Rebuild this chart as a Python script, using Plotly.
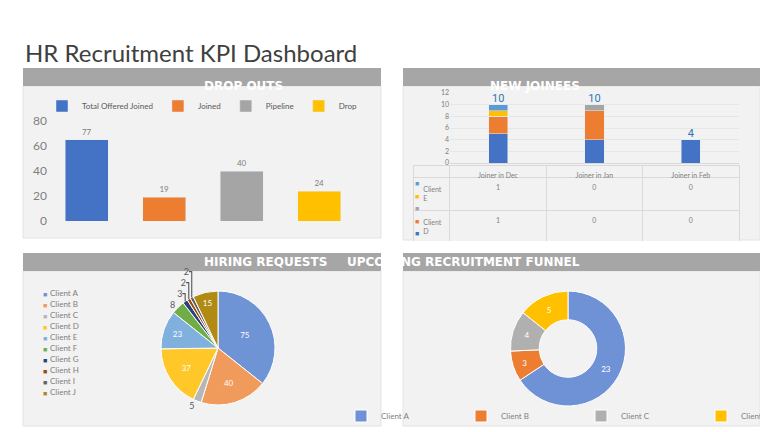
import plotly.graph_objects as go

W, H = 768, 432

# Drop outs
drop_series = ["Total Offered Joined", "Joined", "Pipeline", "Drop"]
drop_heights = [65, 19, 40, 24]
drop_labels = ["77", "19", "40", "24"]
drop_colors = ["#4472c4", "#ed7d31", "#a5a5a5", "#ffc000"]

# New joinees
months = ["Joiner in Dec", "Joiner in Jan", "Joiner in Feb"]
join_clients = ["Client A", "Client B", "Client C", "Client D", "Client E"]
join_values = {
    "Client A": [5, 4, 4],
    "Client B": [3, 5, 0],
    "Client C": [0, 1, 0],
    "Client D": [1, 0, 0],
    "Client E": [1, 0, 0],
}
join_totals = [10, 10, 4]
join_colors = ["#4472c4", "#ed7d31", "#a5a5a5", "#ffc000", "#5b9bd5"]

# Hiring requests
hire_clients = ["Client A", "Client B", "Client C", "Client D", "Client E",
                "Client F", "Client G", "Client H", "Client I", "Client J"]
hire_values = [75, 40, 5, 37, 23, 8, 3, 2, 2, 15]
hire_colors = ["#6f94d6", "#f09a5c", "#b7b7b7", "#ffc727", "#7fb0de",
               "#70ad47", "#264478", "#9e480e", "#636363", "#b08a12"]

# Upcoming funnel
fun_clients = ["Client A", "Client B", "Client C", "Client D"]
fun_values = [23, 3, 4, 5]
fun_colors = ["#6e92d5", "#ed7d31", "#b0b0b0", "#ffc000"]


def px_x(v):
    return v / W


def px_y(v):
    return 1 - v / H


fig = go.Figure()

# bars
for name, h, lab, c in zip(drop_series, drop_heights, drop_labels, drop_colors):
    fig.add_trace(go.Bar(x=[name], y=[h], name=name, marker_color=c, text=[lab],
                         textposition="outside", textfont=dict(size=8, color="#7f7f7f"),
                         width=0.55, cliponaxis=False, legend="legend"))

# stacked joinees
for cl, c in zip(join_clients, join_colors):
    fig.add_trace(go.Bar(x=months, y=join_values[cl], name=cl, marker_color=c,
                         xaxis="x2", yaxis="y2", showlegend=False, width=0.2))
fig.add_trace(go.Scatter(x=months, y=join_totals, mode="text", text=[str(t) for t in join_totals],
                         textposition="top center", textfont=dict(size=11, color="#2e75b6", family="Roboto"),
                         xaxis="x2", yaxis="y2", showlegend=False, cliponaxis=False))

# table under joinees
rows = list(reversed(join_clients))
row_cols = list(reversed(join_colors))
cols = [rows] + [[str(join_values[r][i]) for r in rows] for i in range(3)]
hdr_h, row_h = 12, 12.5
fig.add_trace(go.Table(
    domain=dict(x=[px_x(405), px_x(731)], y=[px_y(157 + hdr_h + 5 * row_h + 2), px_y(157)]),
    columnwidth=[37, 97, 97, 97],
    header=dict(values=[""] + months, height=hdr_h, fill_color="#f2f2f2",
                line_color="#d9d9d9", font=dict(size=7, color="#7f7f7f")),
    cells=dict(values=cols, height=row_h, fill_color="#f2f2f2", line_color="#d9d9d9",
               font=dict(size=7, color="#7f7f7f"), align=["right", "center", "center", "center"]),
))

# pie
fig.add_trace(go.Pie(labels=hire_clients, values=hire_values, sort=False, direction="clockwise",
                     rotation=0, marker=dict(colors=hire_colors, line=dict(color="white", width=1)),
                     textinfo="value",
                     textposition=["inside", "inside", "outside", "inside", "inside",
                                   "outside", "outside", "outside", "outside", "inside"],
                     insidetextfont=dict(size=8, color="white"),
                     outsidetextfont=dict(size=9, color="#595959"),
                     domain=dict(x=[px_x(150), px_x(270)], y=[px_y(397), px_y(283)]),
                     showlegend=False, hoverinfo="label+value"))

# donut
fig.add_trace(go.Pie(labels=fun_clients, values=fun_values, sort=False, direction="clockwise",
                     rotation=0, hole=0.5, marker=dict(colors=fun_colors, line=dict(color="white", width=1)),
                     textinfo="value", textposition="inside", insidetextfont=dict(size=8, color="white"),
                     domain=dict(x=[px_x(500), px_x(620)], y=[px_y(398), px_y(283)]),
                     legend="legend2"))

shapes = []
annotations = []
panels = [
    (15, 373, 60, 230, "DROP OUTS"),
    (395, 752, 60, 232, "NEW JOINEES"),
    (15, 373, 245, 418, "HIRING REQUESTS"),
    (395, 752, 245, 418, "UPCOMING RECRUITMENT FUNNEL"),
]
for x0, x1, y0, y1, title in panels:
    shapes.append(dict(type="rect", xref="paper", yref="paper", x0=px_x(x0), x1=px_x(x1),
                       y0=px_y(y1), y1=px_y(y0 + 18), fillcolor="#f2f2f2",
                       line=dict(color="#e4e4e4", width=1), layer="below"))
    shapes.append(dict(type="rect", xref="paper", yref="paper", x0=px_x(x0), x1=px_x(x1),
                       y0=px_y(y0 + 18), y1=px_y(y0), fillcolor="#a6a6a6", line_width=0, layer="below"))
    annotations.append(dict(text=f"<b>{title}</b>", x=px_x((x0 + x1) / 2), y=px_y(y0 + 9),
                            xref="paper", yref="paper", showarrow=False,
                            font=dict(size=12, color="white", family="DejaVu Sans")))

annotations.append(dict(text="HR Recruitment KPI Dashboard", x=px_x(15), y=px_y(28), xref="paper",
                        yref="paper", xanchor="left", showarrow=False,
                        font=dict(size=24, color="#404040", family="Lato")))

# colour keys for table rows
for i, c in enumerate(row_cols):
    annotations.append(dict(text="■", x=px_x(409), y=px_y(157 + hdr_h + row_h * (i + 0.5)),
                            xref="paper", yref="paper", showarrow=False,
                            font=dict(size=7, color=c)))

# pie legend
for i, (cl, c) in enumerate(zip(hire_clients, hire_colors)):
    yy = px_y(292 + 11 * i)
    annotations.append(dict(text="■", x=px_x(33), y=yy, xref="paper", yref="paper",
                            xanchor="left", showarrow=False, font=dict(size=7, color=c)))
    annotations.append(dict(text=cl, x=px_x(40), y=yy, xref="paper", yref="paper",
                            xanchor="left", showarrow=False, font=dict(size=8, color="#7f7f7f")))

fig.update_layout(
    width=W, height=H, margin=dict(l=0, r=0, t=0, b=0, autoexpand=False),
    paper_bgcolor="white", plot_bgcolor="rgba(0,0,0,0)",
    font=dict(family="Lato", color="#7f7f7f"),
    shapes=shapes, annotations=annotations, barmode="stack",
    xaxis=dict(domain=[px_x(40), px_x(350)], showticklabels=False, showgrid=False, zeroline=False),
    yaxis=dict(domain=[px_y(213), px_y(113)], range=[0, 80], dtick=20, showgrid=False,
               zeroline=False, tickfont=dict(size=12, color="#7f7f7f")),
    xaxis2=dict(domain=[px_x(442), px_x(731)], anchor="y2", showticklabels=False, showgrid=False,
                showline=True, linecolor="#d9d9d9"),
    yaxis2=dict(domain=[px_y(155), px_y(85)], range=[0, 12], dtick=2, anchor="x2", showgrid=True,
                gridcolor="#e6e6e6", zeroline=False, tickfont=dict(size=7, color="#7f7f7f")),
    legend=dict(orientation="h", x=px_x(194), xanchor="center", y=px_y(98), yanchor="middle",
                font=dict(size=8, color="#595959"), bgcolor="rgba(0,0,0,0)", itemwidth=30,
                traceorder="normal"),
    legend2=dict(orientation="h", x=px_x(573), xanchor="center", y=px_y(408), yanchor="middle",
                 font=dict(size=8, color="#7f7f7f"), bgcolor="rgba(0,0,0,0)", entrywidth=75,
                 itemwidth=30),
)

fig.write_html("out.html")
